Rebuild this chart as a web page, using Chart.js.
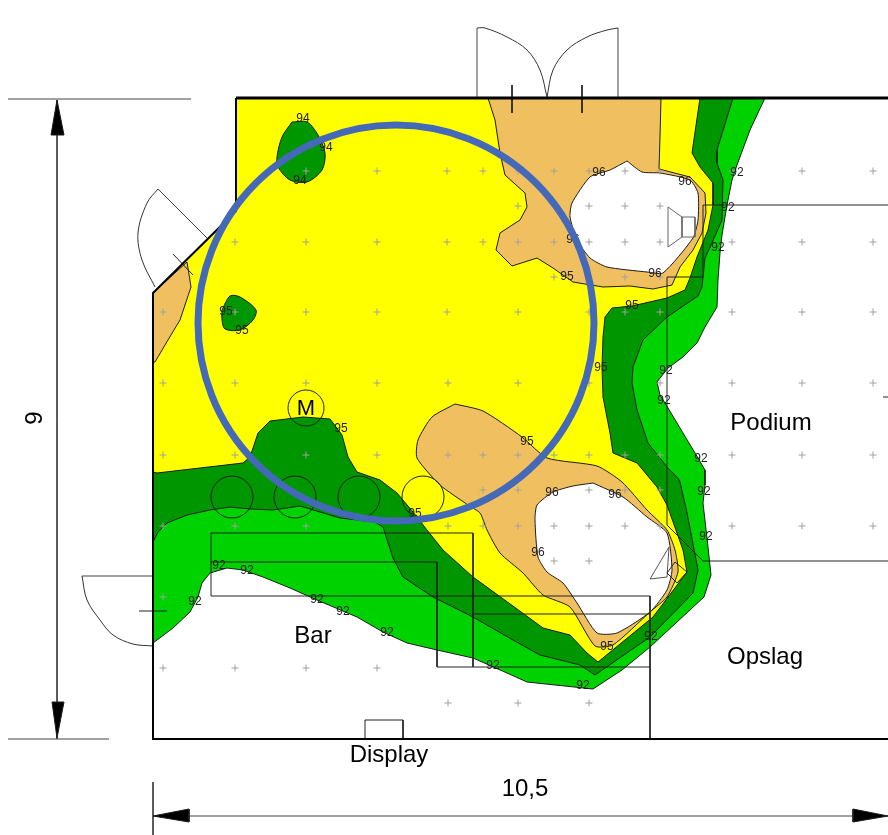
<!DOCTYPE html>
<html>
  <head>
    <meta charset="utf-8">
    <script src="https://cdn.jsdelivr.net/npm/chart.js@4/dist/chart.umd.js"></script>
    <style>
      html, body { margin: 0; padding: 0; background: #fff; }
      canvas { display: block; }
    </style>
  </head>

  <body>
    <canvas id="canvas" width="888" height="835"></canvas>
    <script>
      // contour regions
      const level92 = [[765,98],[750,130],[737,165],[732,180],[727,205],[722,235],[720,253],[718,280],[717,307],[705,327],[697,343],[683,357],[668,368],[657,382],[660,395],[668,408],[695,453],[705,470],[705,485],[703,503],[708,547],[711,575],[704,597],[650,647],[622,670],[593,689],[527,682],[507,673],[473,658],[437,650],[407,643],[383,632],[357,617],[317,600],[290,588],[263,577],[243,570],[227,568],[210,573],[202,583],[198,597],[190,612],[173,628],[153,643],[153,293],[236,211],[236,98]];
      const level93 = [[733,98],[717,150],[717,163],[723,180],[722,220],[712,243],[705,258],[702,287],[698,296],[667,317],[643,340],[633,367],[632,383],[637,410],[648,443],[667,467],[678,478],[680,482],[687,513],[698,570],[693,593],[650,637],[595,675],[580,665],[540,655],[513,640],[473,617],[433,597],[403,577],[393,558],[383,527],[375,522],[340,518],[300,506],[273,510],[250,509],[230,507],[210,510],[187,515],[167,523],[158,532],[153,542],[153,293],[236,211],[236,98]];
      const level94 = [[700,98],[692,153],[700,167],[713,183],[713,205],[708,230],[697,257],[690,278],[685,290],[667,298],[632,306],[612,308],[605,317],[603,337],[602,367],[603,397],[610,433],[613,453],[637,463],[657,487],[667,505],[677,533],[683,550],[687,572],[653,617],[598,662],[587,653],[570,635],[543,628],[528,617],[473,577],[443,550],[427,530],[413,512],[397,493],[380,480],[357,472],[348,457],[342,435],[330,419],[303,417],[270,421],[258,433],[250,457],[243,463],[157,473],[153,472],[153,293],[236,211],[236,98]];
      const level95Top = [[488,98],[495,120],[500,153],[505,175],[525,193],[527,207],[520,220],[500,233],[496,250],[512,266],[537,258],[553,268],[573,282],[603,287],[630,286],[653,289],[672,285],[680,267],[693,250],[702,233],[706,213],[705,193],[690,177],[659,169],[660,137],[661,98]];
      const level95Left = [[153,293],[187,262],[191,287],[180,320],[165,345],[155,362],[153,362]];
      const level95Low = [[455,404],[483,411],[522,437],[547,458],[597,466],[622,482],[647,510],[667,530],[675,550],[678,572],[667,597],[650,612],[613,645],[595,646],[570,607],[543,595],[523,573],[500,553],[487,530],[480,513],[468,505],[440,485],[417,458],[418,440],[432,417]];
      const level96Top = [[627,161],[642,172],[660,173],[690,180],[698,193],[698,220],[693,238],[663,273],[647,272],[607,267],[590,258],[577,240],[570,217],[572,203],[590,177],[610,170]];
      const level96Low = [[593,483],[573,486],[553,492],[537,505],[535,520],[538,557],[547,572],[563,583],[577,603],[597,633],[617,633],[650,612],[667,590],[672,570],[667,533],[647,517],[623,497]];
      const blobTop = [[292,122],[307,122],[318,135],[325,153],[322,170],[307,182],[290,180],[278,167],[277,157],[282,137]];
      const blobLeft = [[222,310],[230,296],[240,297],[256,310],[253,320],[240,330],[225,329],[222,320]];

      // plan linework
      const wallTop = [[236,98],[888,98]];
      const wallOuter = [[236,98],[236,211],[153,293],[153,739],[888,739]];
      const doorLeaves = [[[477,97],[477,28]],[[618,97],[618,28]],[[207,238],[158,189]],[[153,576],[82,576]]];
      const doorArcs = [
        [[477,28],[485,28],[507,37],[527,50],[540,70],[547,97]],
        [[618,28],[607,30],[587,37],[567,50],[553,70],[547,97]],
        [[158,189],[147,203],[138,233],[142,260],[155,287]],
        [[82,576],[87,600],[100,620],[113,635],[133,644],[153,646]],
      ];
      const ticks = [[[512,85],[512,113]],[[582,85],[582,113]],[[173,254],[193,275]],[[139,611],[167,611]],[[883,397],[888,397]]];
      const planLines = [
        [[211,596],[211,533],[473,533],[473,667]],
        [[211,596],[650,596],[650,739]],
        [[211,562],[437,562],[437,667],[650,667]],
        [[473,614],[650,614]],
        [[667,525],[667,277],[703,277],[703,205],[888,205]],
        [[667,525],[703,561],[888,561]],
        [[365,739],[365,720],[403,720],[403,739]],
      ];
      const speakerOne = [[668,207],[682,217],[695,217],[695,237],[682,237],[668,247],[668,207]];
      const speakerOneNeck = [[682,217],[682,237]];
      const speakerTwo = [[650,579],[669,547],[667,577],[650,579]];
      const speakerTwoBox = [[675,562],[687,572],[677,583],[667,573],[675,562]];
      const dimLines = [[[8,99],[191,99]],[[8,739],[109,739]],[[57,100],[57,739]],[[153,782],[153,835]],[[153,816],[888,816]]];
      const arrows = [[[57,100],[51,135],[64,135]],[[57,738],[52,702],[64,702]],[[153,816],[189,809],[189,822]],[[888,816],[853,809],[853,822]]];

      const marks = [[232,497],[295,497],[359,497],[423,497],[306,408]];
      const micRing = [[396,323]];

      // measurement grid, one list per row
      const gridRows = [
        [171, [306,377,447,483,518,554,589,625,660,732,802,873]],
        [206, [518,589,625,660]],
        [242, [235,306,377,447,483,518,554,589,625,660,732,802,873]],
        [277, [554,625,660]],
        [312, [163,235,306,377,447,518,589,625,660,732,802,873]],
        [383, [163,235,306,377,448,518,589,660,732,802,873]],
        [455, [163,235,306,377,448,483,518,554,589,625,660,732,802,873]],
        [490, [483,518,589,625,660]],
        [526, [163,235,306,448,483,518,554,589,625,660,732,802,873]],
        [561, [554,589]],
        [597, [163]],
        [668, [163,235,306,377]],
        [703, [448,518,589]],
      ];

      // contour value labels
      const labels92 = [[737,173],[728,208],[718,248],[666,371],[664,401],[701,459],[704,492],[706,537],[651,637],[493,666],[583,686],[219,566],[247,571],[317,600],[343,612],[387,633],[195,602]];
      const labels94 = [[303,119],[326,148],[300,181]];
      const labels95 = [[226,312],[242,331],[341,429],[415,514],[527,442],[632,306],[601,368],[567,277],[607,647]];
      const labels96 = [[599,173],[685,182],[655,274],[573,240],[552,493],[615,495],[538,553]];
      const roomLabels = [['Podium',771,423],['Bar',313,636],['Opslag',765,657],['Display',389,755],['10,5',525,789]];

      const toPoints = (list) => list.map(([x, y]) => ({ x, y }));

      const area = (list, color, tension) => ({
        data: toPoints(list.concat([list[0]])),
        showLine: true,
        fill: 'shape',
        backgroundColor: color,
        borderColor: '#1c1c1c',
        borderWidth: 1,
        pointRadius: 0,
        tension: tension || 0,
        clip: false,
      });
      const line = (list, color, width, tension) => ({
        data: toPoints(list),
        showLine: true,
        fill: false,
        borderColor: color,
        borderWidth: width,
        pointRadius: 0,
        tension: tension || 0,
        clip: false,
      });
      const circles = (list, radius) => ({
        data: toPoints(list),
        pointRadius: radius,
        pointBackgroundColor: 'transparent',
        pointBorderColor: '#222',
        pointBorderWidth: 1,
        clip: false,
      });

      const YELLOW = '#ffff00';
      const GREEN = '#00d200';
      const DARK_GREEN = '#009600';
      const ORANGE = '#f0c060';
      const INK = '#222';

      const gridPoints = gridRows.flatMap(([y, xs]) => xs.map((x) => [x, y]));

      // painter's order, reversed below because Chart.js draws the first dataset last
      const painted = [
        area(level92, GREEN),
        area(level93, DARK_GREEN),
        area(level94, YELLOW),
        area(level95Top, ORANGE),
        area(level95Left, ORANGE),
        area(level95Low, ORANGE, 0.2),
        area(level96Top, '#fff', 0.2),
        area(level96Low, '#fff', 0.2),
        area(blobTop, DARK_GREEN, 0.3),
        area(blobLeft, DARK_GREEN, 0.3),
        {
          data: toPoints(gridPoints),
          pointStyle: 'cross',
          pointRadius: 3.5,
          pointBorderWidth: 1,
          pointBorderColor: '#a0a0a0',
          clip: false,
        },
        ...planLines.map((l) => line(l, INK, 1)),
        ...ticks.map((l) => line(l, INK, 1)),
        ...dimLines.map((l) => line(l, '#444', 1)),
        ...doorLeaves.map((l) => line(l, '#444', 1)),
        ...doorArcs.map((l) => line(l, '#333', 1, 0.35)),
        line(speakerOne, '#666', 1),
        line(speakerOneNeck, '#666', 1),
        line(speakerTwo, '#555', 1),
        line(speakerTwoBox, INK, 1),
        ...arrows.map((a) => area(a, '#000')),
        circles(marks.slice(0, 4), 21),
        circles(marks.slice(4), 18),
        line(wallTop, '#000', 3),
        line(wallOuter, '#000', 2),
        {
          label: 'ring',
          data: toPoints(micRing),
          pointRadius: 198,
          pointBackgroundColor: 'transparent',
          pointBorderColor: '#4369b8',
          pointBorderWidth: 7,
          clip: false,
        },
      ];

      // texts go under the blue ring, so they are drawn just before it
      const planText = {
        id: 'planText',
        beforeDatasetDraw(chart, args) {
          if (chart.data.datasets[args.index].label !== 'ring') return;
          const { ctx, scales } = chart;
          const px = (x) => scales.x.getPixelForValue(x);
          const py = (y) => scales.y.getPixelForValue(y);
          ctx.save();
          ctx.textAlign = 'center';
          ctx.textBaseline = 'middle';
          ctx.fillStyle = '#222';
          ctx.font = '12px "Liberation Sans"';
          [[labels92, '92'], [labels94, '94'], [labels95, '95'], [labels96, '96']].forEach(([list, text]) => {
            list.forEach(([x, y]) => ctx.fillText(text, px(x), py(y)));
          });
          ctx.fillStyle = '#000';
          ctx.font = '24px "Liberation Sans"';
          roomLabels.forEach(([text, x, y]) => ctx.fillText(text, px(x), py(y)));
          ctx.font = '22px "Liberation Sans"';
          ctx.fillText('M', px(306), py(409));
          ctx.font = '24px "Liberation Sans"';
          ctx.translate(px(35), py(418));
          ctx.rotate(-Math.PI / 2);
          ctx.fillText('9', 0, 0);
          ctx.restore();
        },
      };

      new Chart(document.getElementById('canvas').getContext('2d'), {
        type: 'scatter',
        data: { datasets: painted.reverse() },
        plugins: [planText],
        options: {
          responsive: false,
          animation: false,
          events: [],
          layout: { padding: 0, autoPadding: false },
          scales: {
            x: { type: 'linear', display: false, min: 0, max: 888 },
            y: { type: 'linear', display: false, min: 0, max: 835, reverse: true },
          },
          plugins: {
            legend: { display: false },
            tooltip: { enabled: false },
          },
        },
      });
    </script>
  </body>
</html>
